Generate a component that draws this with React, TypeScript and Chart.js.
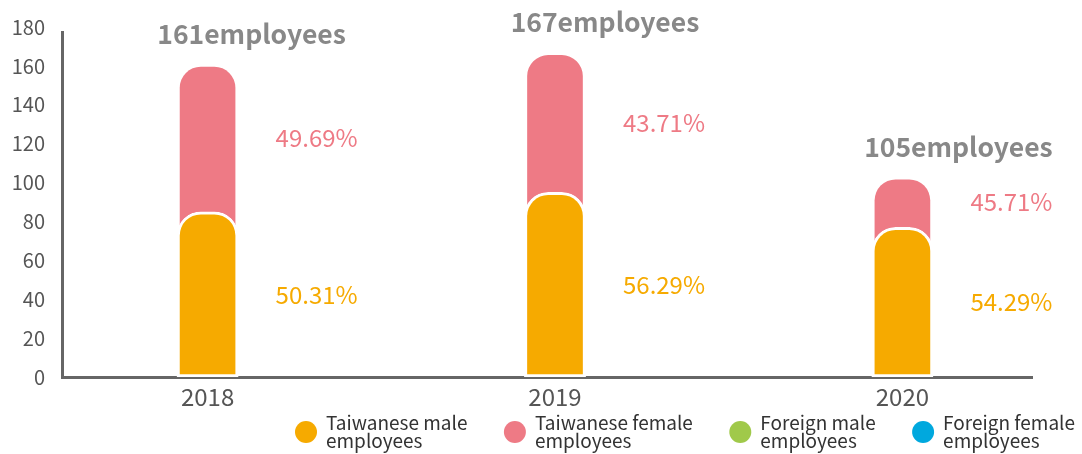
import React, { useEffect, useRef } from 'react';
import { Chart, registerables } from 'chart.js';

Chart.register(...registerables);

const FONT = "'Noto Sans CJK TC', 'Noto Sans', sans-serif";

const years = [2018, 2019, 2020];
const totalEmployees = [161, 167, 105];
const maleBarHeights = [85, 95, 77];
const femaleBarTops = [161, 167, 103];
const malePct = ['50.31%', '56.29%', '54.29%'];
const femalePct = ['49.69%', '43.71%', '45.71%'];
const yTicks = [0, 20, 40, 60, 80, 100, 120, 140, 160, 180];
const seriesNames = [
  ['Taiwanese male', 'employees'],
  ['Taiwanese female', 'employees'],
  ['Foreign male', 'employees'],
  ['Foreign female', 'employees'],
];
const seriesColors = ['#F6AA00', '#EE7A85', '#A0C94A', '#00A8DE'];

const labelPlugin = {
  id: 'labelPlugin',
  afterDatasetsDraw(chart: any) {
    const ctx = chart.ctx;
    const xs = chart.scales.x;
    const ys = chart.scales.y;
    ctx.save();
    years.forEach((yr, i) => {
      const x = xs.getPixelForValue(yr);
      ctx.font = `bold 26.5px ${FONT}`;
      ctx.fillStyle = '#888888';
      ctx.textAlign = 'center';
      ctx.textBaseline = 'middle';
      ctx.fillText(`${totalEmployees[i]}employees`, x + 50 + (i - 1) * 6, ys.getPixelForValue(femaleBarTops[i]) - 30);
      ctx.font = `24px ${FONT}`;
      ctx.textAlign = 'left';
      ctx.fillStyle = seriesColors[1];
      ctx.fillText(femalePct[i], x + 68, ys.getPixelForValue((maleBarHeights[i] + femaleBarTops[i]) / 2));
      ctx.fillStyle = seriesColors[0];
      ctx.fillText(malePct[i], x + 68, ys.getPixelForValue(maleBarHeights[i] / 2));
    });
    ctx.restore();
  },
};

const legendPlugin = {
  id: 'customLegend',
  afterDraw(chart: any) {
    const ctx = chart.ctx;
    ctx.save();
    ctx.font = `19px ${FONT}`;
    ctx.textBaseline = 'alphabetic';
    ctx.textAlign = 'left';
    const datasets = chart.data.datasets;
    const widths = datasets.map((ds: any) =>
      Math.max(...ds.legendLines.map((ln: string) => ctx.measureText(ln).width))
    );
    const startX = 306;
    const endX = 1075;
    const used = widths.reduce((a: number, b: number) => a + b, 0) + 20 * datasets.length;
    const gap = (endX - startX - used) / (datasets.length - 1);
    let cx = startX;
    datasets.forEach((ds: any, i: number) => {
      const lines: string[] = ds.legendLines;
      ctx.fillStyle = ds.backgroundColor;
      ctx.beginPath();
      ctx.arc(cx, 432, 11, 0, Math.PI * 2);
      ctx.fill();
      ctx.fillStyle = '#333333';
      const tx = cx + 20;
      lines.forEach((ln, k) => {
        ctx.fillText(ln, tx, 430 + k * 18);
      });
      cx = tx + widths[i] + gap;
    });
    ctx.restore();
  },
};

export default function App() {
  const ref = useRef<HTMLCanvasElement | null>(null);
  useEffect(() => {
    if (!ref.current) return;
    document.body.style.margin = '0';
    const mk = (arr: number[]) => years.map((yr, i) => ({ x: yr, y: arr[i] }));
    const common = {
      borderColor: '#ffffff',
      borderWidth: 3,
      borderSkipped: false,
      barThickness: 61,
      grouped: false,
      borderRadius: { topLeft: 24, topRight: 24, bottomLeft: 0, bottomRight: 0 },
    };
    const chart = new Chart(ref.current, {
      type: 'bar',
      data: {
        datasets: [
          { ...common, label: seriesNames[0].join(' '), legendLines: seriesNames[0], data: mk(maleBarHeights), backgroundColor: seriesColors[0] } as any,
          { ...common, label: seriesNames[1].join(' '), legendLines: seriesNames[1], data: mk(femaleBarTops), backgroundColor: seriesColors[1] } as any,
          { ...common, label: seriesNames[2].join(' '), legendLines: seriesNames[2], data: mk([0, 0, 0]), backgroundColor: seriesColors[2], hidden: true } as any,
          { ...common, label: seriesNames[3].join(' '), legendLines: seriesNames[3], data: mk([0, 0, 0]), backgroundColor: seriesColors[3], hidden: true } as any,
        ],
      },
      options: {
        animation: false,
        responsive: true,
        maintainAspectRatio: false,
        layout: { padding: { top: 32, right: 50, left: 0, bottom: 0 } },
        plugins: { legend: { display: false }, tooltip: { enabled: false } },
        scales: {
          x: {
            type: 'linear',
            min: 2017.581,
            max: 2020.373,
            offset: false,
            z: 1,
            grid: { display: false, drawTicks: true, tickLength: 5, offset: false },
            border: { display: true, color: '#666666', width: 3 },
            ticks: {
              autoSkip: false,
              maxRotation: 0,
              padding: 0,
              color: '#555555',
              font: { family: FONT, size: 24 },
              callback: (v: any) => String(v),
            },
            afterBuildTicks: (s: any) => {
              s.ticks = years.map((v) => ({ value: v }));
            },
            afterFit: (s: any) => {
              s.height = 77;
            },
          },
          y: {
            type: 'linear',
            min: 0,
            max: 177.5,
            z: 1,
            grid: { display: false, drawTicks: true, tickLength: 17 },
            border: { display: true, color: '#666666', width: 3 },
            ticks: {
              autoSkip: false,
              padding: 0,
              color: '#555555',
              font: { family: FONT, size: 20 },
              callback: (v: any) => String(v),
            },
            afterBuildTicks: (s: any) => {
              s.ticks = yTicks.map((v) => ({ value: v }));
            },
            afterFit: (s: any) => {
              s.width = 62;
            },
          },
        },
      } as any,
      plugins: [labelPlugin, legendPlugin],
    });
    return () => chart.destroy();
  }, []);
  return (
    <div style={{ position: 'relative', width: '1082px', height: '454px' }}>
      <canvas ref={ref} />
    </div>
  );
}
